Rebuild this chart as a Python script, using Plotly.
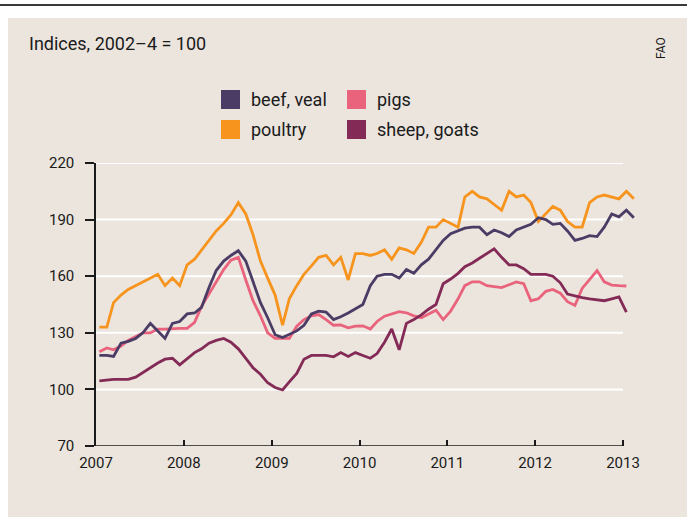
import plotly.graph_objects as go

# ---- data (monthly index values, 2002-4 = 100) ----
months = [f"{2007 + i // 12}-{i % 12 + 1:02d}-15" for i in range(74)]

beef_veal = [118, 118, 117.5, 124.5, 125.5, 127, 130, 135, 131, 127, 135, 136,
             140, 140.5, 143.5, 154, 163, 168, 171, 173.5, 168, 157, 146, 138,
             129, 127.5, 129, 131, 134, 140, 141.5, 141, 137, 138.5, 140.5, 142.5,
             145, 155, 160, 161, 161, 159, 163.5, 161.5, 166, 169, 174, 179,
             182.5, 184, 185.5, 186, 186, 182, 184.5, 183, 181, 184.5, 186, 187.5,
             191, 190, 187.5, 188, 184, 179, 180, 181.5, 181, 186, 193, 191.5,
             195, 191]

poultry = [133, 133, 146, 150, 153, 155, 157, 159, 161, 155, 159, 155,
           166, 169, 174, 179, 184, 188, 192.5, 199, 193, 182, 168, 159,
           150, 134, 148, 155, 161, 165.5, 170, 171, 166, 170, 158, 172,
           172, 171, 172, 174, 169, 175, 174, 172, 178, 186, 186, 190,
           188, 186, 202, 205, 202, 201, 198, 195, 205, 202, 203, 199,
           189, 193, 197, 195, 189, 186, 186, 199, 202, 203, 202, 201,
           205, 201]

pigs = [120, 122, 121, 123, 126, 128, 130, 130, 132, 132, 132.3, 132.3,
        132.3, 135.5, 144, 150.5, 157, 163.5, 168.5, 170, 158, 147, 139, 130,
        127, 127, 127, 133.5, 137, 139, 139.7, 137, 134, 134.2, 132.6, 133.5,
        133.7, 132, 136, 138.8, 140, 141.2, 140.6, 139, 138, 140, 142, 137,
        141.5, 148, 155, 157, 157, 155, 154.5, 154, 155.5, 157, 156, 147,
        148, 152, 153, 151, 146.5, 144.5, 153.5, 158.5, 163, 157, 155.3, 155,
        154.8]

sheep_goats = [104.5, 105, 105.3, 105.3, 105.3, 106.5, 109, 111.5, 114, 116, 116.5, 113,
               116.5, 119.5, 121.5, 124.5, 126, 127, 125, 121.5, 116.5, 111.5, 108, 103.5,
               101, 99.7, 104, 108.5, 116, 118, 118, 118, 117.3, 119.5, 117.5, 119.5,
               118, 116.5, 119, 125, 132, 121, 135, 137, 139.5, 142.5, 145, 156,
               158.5, 161.5, 165, 167, 169.5, 172, 174.5, 170, 166, 166, 164, 161,
               161, 161, 160, 156.5, 150.5, 149.5, 148.6, 148, 147.5, 147, 148, 149,
               141]

series_names = ["beef, veal", "poultry", "pigs", "sheep, goats"]
series_values = [beef_veal, poultry, pigs, sheep_goats]
series_colors = ["#4b3c65", "#f7941d", "#ea637d", "#832a56"]

y_ticks = [70, 100, 130, 160, 190, 220]
x_ticks = [f"{y}-01-01" for y in range(2007, 2014)]
x_tick_labels = [str(y) for y in range(2007, 2014)]

# ---- layout geometry (pixels) ----
W, H = 687, 517
L, R, T, B = 96, 51, 163, 71
PW, PH = W - L - R, H - T - B
BEIGE = "#ebe5de"


def px_x(px):
    return (px - L) / PW


def px_y(py):
    return (H - B - py) / PH


fig = go.Figure()

draw_order = [1, 2, 0, 3]
for k in draw_order:
    vals = series_values[k]
    fig.add_trace(go.Scatter(
        x=months[:len(vals)], y=vals, mode="lines", name=series_names[k],
        line=dict(color=series_colors[k], width=2.8), showlegend=False,
        hoverinfo="skip",
    ))

shapes = []
# beige panel
shapes.append(dict(type="rect", xref="paper", yref="paper",
                   x0=px_x(8), x1=px_x(W + 2), y0=px_y(H + 2), y1=px_y(18),
                   fillcolor=BEIGE, line=dict(width=0), layer="below"))
# top rule
shapes.append(dict(type="line", xref="paper", yref="paper",
                   x0=px_x(0), x1=px_x(W), y0=px_y(5), y1=px_y(5),
                   line=dict(color="#3a3a3a", width=2), layer="above"))
# gridlines
for v in y_ticks[1:]:
    shapes.append(dict(type="line", xref="x", yref="y",
                       x0=x_ticks[0], x1=x_ticks[-1], y0=v, y1=v,
                       line=dict(color="white", width=2), layer="below"))
# bottom axis line
shapes.append(dict(type="line", xref="x", yref="y",
                   x0=x_ticks[0], x1=x_ticks[-1], y0=y_ticks[0], y1=y_ticks[0],
                   line=dict(color="#1a1a1a", width=1.5), layer="above"))

# manual legend
legend_pos = [(221, 99.5), (221, 129.5), (347, 99.5), (347, 129.5)]
annotations = []
for k, (lx, ly) in enumerate(legend_pos):
    shapes.append(dict(type="rect", xref="paper", yref="paper",
                       x0=px_x(lx), x1=px_x(lx + 19), y0=px_y(ly + 9.5), y1=px_y(ly - 9.5),
                       fillcolor=series_colors[k], line=dict(width=0), layer="above"))
    annotations.append(dict(xref="paper", yref="paper", x=px_x(lx + 28), y=px_y(ly),
                            text=series_names[k], showarrow=False, xanchor="left",
                            yanchor="middle", font=dict(size=18, color="#1a1a1a")))

annotations.append(dict(xref="paper", yref="paper", x=px_x(27), y=px_y(44),
                        text="Indices, 2002\u20134 = 100", showarrow=False,
                        xanchor="left", yanchor="middle",
                        font=dict(size=18, color="#1a1a1a")))
annotations.append(dict(xref="paper", yref="paper", x=px_x(661), y=px_y(48),
                        text="FAO", showarrow=False, textangle=-90,
                        xanchor="center", yanchor="middle",
                        font=dict(size=12, color="#1a1a1a")))

fig.update_layout(
    width=W, height=H,
    margin=dict(l=L, r=R, t=T, b=B, pad=0),
    paper_bgcolor="white", plot_bgcolor=BEIGE,
    font=dict(family="Roboto, sans-serif", color="#1a1a1a"),
    shapes=shapes, annotations=annotations,
    hovermode=False,
    xaxis=dict(type="date", range=["2007-01-01", "2013-02-24"],
               tickvals=x_ticks, ticktext=x_tick_labels,
               ticks="inside", ticklen=6, tickwidth=1.5, tickcolor="#1a1a1a",
               showgrid=False, showline=False, zeroline=False,
               tickfont=dict(size=15, color="#1a1a1a"), ticklabelstandoff=6),
    yaxis=dict(range=[70, 220], tickvals=y_ticks,
               ticks="outside", ticklen=9, tickwidth=1.5, tickcolor="#1a1a1a",
               showgrid=False, showline=True, linecolor="#1a1a1a", linewidth=1.5,
               zeroline=False, tickfont=dict(size=15, color="#1a1a1a"),
               ticklabelstandoff=8),
)

fig.write_html("out.html", config={"displayModeBar": False},
               post_script="document.body.style.margin='0';document.body.style.overflow='hidden';")
